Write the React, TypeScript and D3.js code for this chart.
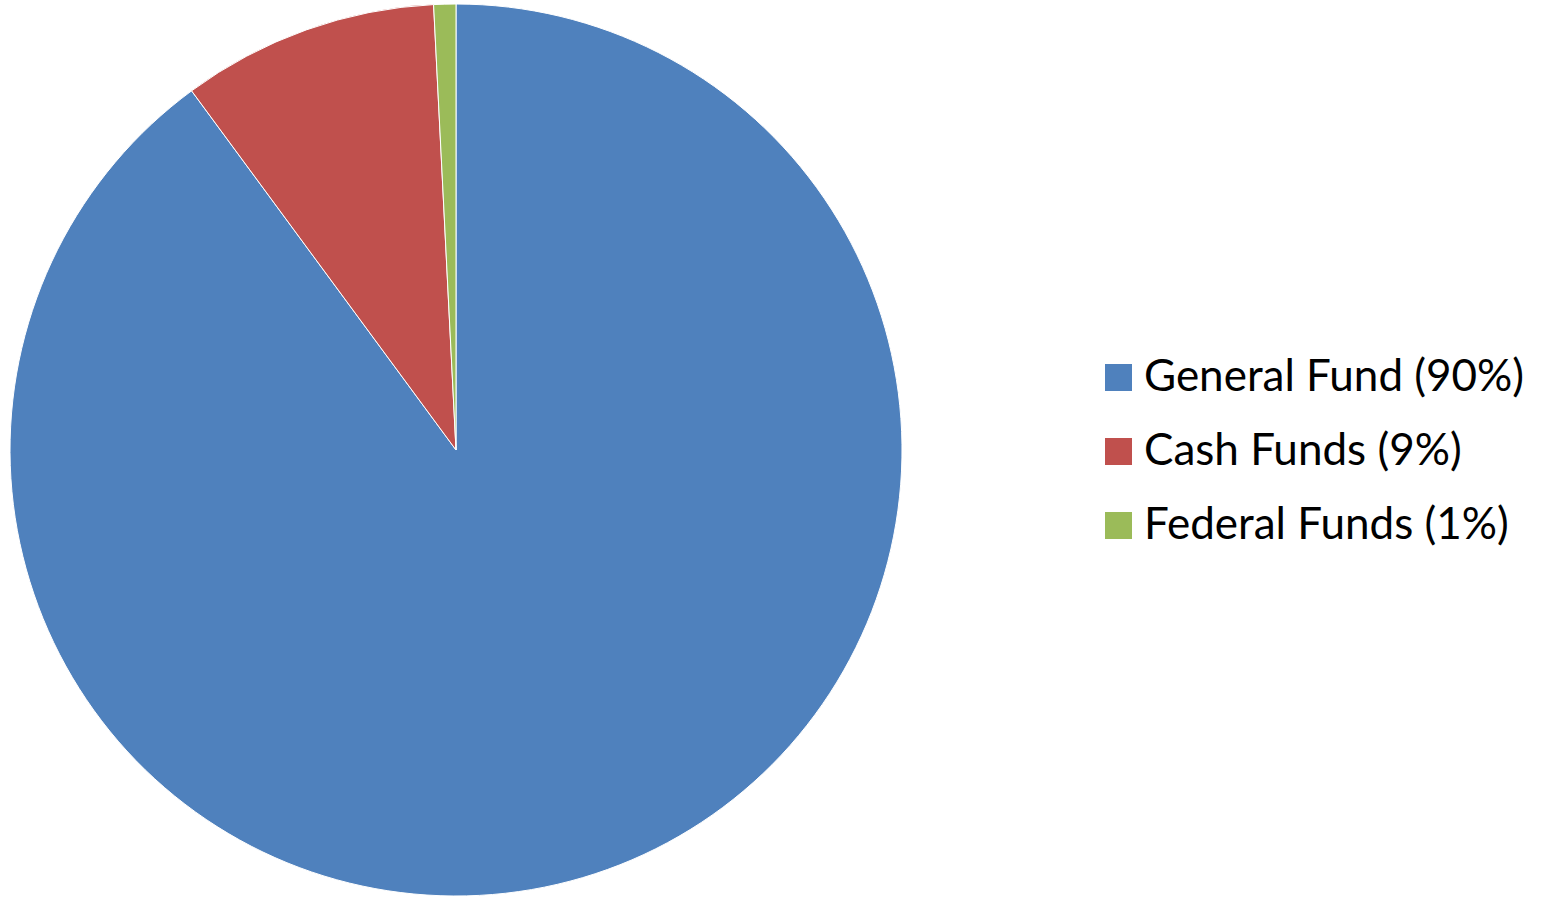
import React from 'react';
import * as d3 from 'd3';

const labels = ['General Fund (90%)', 'Cash Funds (9%)', 'Federal Funds (1%)'];
const shares = [89.9, 9.3, 0.8];
const colors = ['#4F81BD', '#C0504D', '#9BBB59'];

const W = 1546;
const H = 900;

export default function App() {
  const cx = 456, cy = 450, r = 446;

  const pie = d3.pie<number>().sort(null).value(d => d);
  const arc = d3.arc<d3.PieArcDatum<number>>().innerRadius(0).outerRadius(r);
  const arcs = pie(shares);

  // legend rows
  const legendY = d3.scalePoint<number>().domain(labels.map((_, i) => i)).range([364, 512]);

  return (
    <svg width={W} height={H} style={{ position: 'absolute', left: 0, top: 0 }}>
      <rect width={W} height={H} fill="#fff" />
      <g transform={`translate(${cx},${cy})`}>
        {arcs.map((a, i) => (
          <path key={i} d={arc(a) || ''} fill={colors[i]} stroke="#fff" strokeWidth={1} />
        ))}
      </g>
      <g>
        {labels.map((l, i) => (
          <g key={l} transform={`translate(1105,${legendY(i)})`}>
            <rect width={27} height={27} fill={colors[i]} />
            <text x={39} y={27} fontFamily="Lato, 'Open Sans', sans-serif" fontSize={44} fill="#000">
              {l}
            </text>
          </g>
        ))}
      </g>
    </svg>
  );
}
